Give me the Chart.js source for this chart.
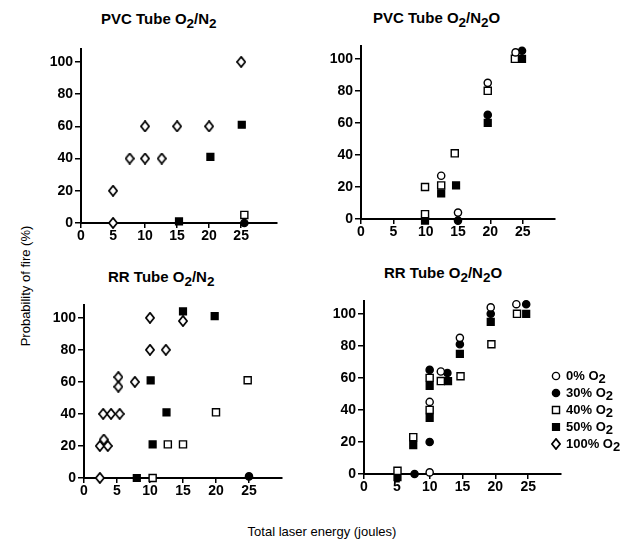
<!DOCTYPE html>
<html>
<head>
<meta charset="utf-8">
<script src="https://cdn.jsdelivr.net/npm/chart.js@4.4.1/dist/chart.umd.min.js"></script>
<style>
  html, body { margin: 0; padding: 0; background: #fff; }
  #page { position: relative; width: 633px; height: 539px; overflow: hidden; color: #000;
          font-family: "Liberation Sans", Arial, Helvetica, sans-serif; }
  canvas { position: absolute; }
  .title { position: absolute; font-weight: bold; font-size: 15px; line-height: 15px; white-space: nowrap; }
  .sub { position: relative; top: 4px; font-size: 90%; }
  .axis-title { position: absolute; font-size: 13px; line-height: 13px; white-space: nowrap; }
</style>
</head>
<body>
<div id="page">
  <div class="axis-title" id="yTitle" style="left:25px; top:286px; transform: translate(-50%, -50%) rotate(-90deg);"></div>
  <div class="axis-title" id="xTitle" style="left:322px; top:531px; transform: translate(-50%, -50%);"></div>
</div>
<script>
const xTicks = [0, 5, 10, 15, 20, 25];
const yTicks = [0, 20, 40, 60, 80, 100];
const seriesLabels = ['0% O₂', '30% O₂', '40% O₂', '50% O₂', '100% O₂'];
const panelTitles = ['PVC Tube O₂/N₂', 'PVC Tube O₂/N₂O', 'RR Tube O₂/N₂', 'RR Tube O₂/N₂O'];
const xTitle = 'Total laser energy (joules)';
const yTitle = 'Probability of fire (%)';

// [joules, % fire]
const pvcN2_0 = [];
const pvcN2_30 = [[25.5, 0]];
const pvcN2_40 = [[25.5, 5]];
const pvcN2_50 = [[15.3, 1], [20.2, 41], [25.1, 61]];
const pvcN2_100 = [[5, 20], [5, 0], [7.6, 40], [10, 60], [10, 40], [12.6, 40], [15, 60], [20, 60], [25, 100]];

const pvcN2O_0 = [[12.4, 27], [15, 4], [19.6, 85], [23.9, 104]];
const pvcN2O_30 = [[15, -1], [19.6, 65], [24.9, 105]];
const pvcN2O_40 = [[9.9, 20], [9.9, 3], [12.4, 21], [14.5, 41], [19.6, 80], [23.8, 100]];
const pvcN2O_50 = [[9.9, -1], [12.4, 16], [14.7, 21], [19.6, 60], [24.9, 100]];
const pvcN2O_100 = [];

const rrN2_0 = [];
const rrN2_30 = [[25, 1]];
const rrN2_40 = [[10.4, 0], [12.7, 21], [15, 21], [20, 41], [24.8, 61]];
const rrN2_50 = [[8, 0], [10.1, 61], [10.4, 21], [12.5, 41], [15, 104], [19.8, 101]];
const rrN2_100 = [[2.4, 0], [2.4, 20], [3, 24], [3.6, 20], [2.9, 40], [4.1, 40], [5.4, 40], [5.2, 63], [5.2, 57],
                  [7.7, 60], [10, 100], [10, 80], [12.4, 80], [15, 98]];

const rrN2O_0 = [[10, 1], [10, 45], [11.7, 64], [14.6, 85], [19.3, 104], [23.2, 106]];
const rrN2O_30 = [[7.7, 0], [10, 20], [10, 65], [12.7, 63], [14.6, 81], [19.3, 100], [24.7, 106]];
const rrN2O_40 = [[5.1, 2], [7.5, 23], [10, 40], [10, 60], [11.7, 58], [14.7, 61], [19.4, 81], [23.3, 100]];
const rrN2O_50 = [[5.1, -2], [7.5, 18], [10, 35], [10, 55], [12.8, 58], [14.6, 75], [19.3, 95], [24.7, 100]];
const rrN2O_100 = [];

// layout: chart area [left, top, right, bottom] in page px, title position
const panels = [
  { area: [81, 49, 277, 223], xMax: 30.6, title: [101, 11], series: [pvcN2_0, pvcN2_30, pvcN2_40, pvcN2_50, pvcN2_100] },
  { area: [361, 46, 555, 219], xMax: 30, title: [373, 10], series: [pvcN2O_0, pvcN2O_30, pvcN2O_40, pvcN2O_50, pvcN2O_100] },
  { area: [84, 305, 282, 478], xMax: 30, title: [108, 269], series: [rrN2_0, rrN2_30, rrN2_40, rrN2_50, rrN2_100] },
  { area: [364, 301, 561, 474], xMax: 30, title: [384, 265], series: [rrN2O_0, rrN2O_30, rrN2O_40, rrN2O_50, rrN2O_100], legend: true }
];

const FONT = '"Liberation Sans", Arial, Helvetica, sans-serif';
const TICK_FONT = { family: FONT, size: 14, weight: 'bold' };

// tall open diamond for 100% O2
const diamond = document.createElement('canvas');
diamond.width = 10;
diamond.height = 12;
(() => {
  const c = diamond.getContext('2d');
  c.beginPath();
  c.moveTo(5, 0.9);
  c.lineTo(9.1, 6);
  c.lineTo(5, 11.1);
  c.lineTo(0.9, 6);
  c.closePath();
  c.fillStyle = '#fff';
  c.fill();
  c.lineWidth = 1.7;
  c.strokeStyle = '#000';
  c.stroke();
})();

const markers = [
  { style: 'circle', radius: 3.6, fill: '#fff' },
  { style: 'circle', radius: 3.6, fill: '#000' },
  { style: 'rect', radius: 5, fill: '#fff' },
  { style: 'rect', radius: 4.8, fill: '#000' },
  { style: diamond, radius: 4.5, fill: '#fff' }
];

function subHtml(text) {
  return text.replace(/₂/g, '<span class="sub">2</span>');
}

function drawSubText(ctx, text, x, y) {
  for (const ch of text) {
    const isSub = ch === '₂';
    const c = isSub ? '2' : ch;
    ctx.fillText(c, x, isSub ? y + 3 : y);
    x += ctx.measureText(c).width;
  }
}

const legendPlugin = {
  id: 'o2Legend',
  afterDraw(chart, args, opts) {
    if (!opts.show) return;
    const { ctx, chartArea } = chart;
    ctx.save();
    ctx.font = 'bold 13px ' + FONT;
    ctx.textBaseline = 'middle';
    chart.data.datasets.forEach((ds, i) => {
      const x = Math.round(chartArea.left + opts.x);
      const y = Math.round(chartArea.top + opts.y + i * opts.gap);
      ctx.fillStyle = ds.pointBackgroundColor;
      ctx.strokeStyle = '#000';
      ctx.lineWidth = ds.pointBorderWidth;
      Chart.helpers.drawPoint(ctx, { pointStyle: ds.pointStyle, radius: ds.pointRadius, borderWidth: ds.pointBorderWidth }, x, y);
      ctx.fillStyle = '#000';
      drawSubText(ctx, ds.label, x + 10, y);
    });
    ctx.restore();
  }
};

function axis(ticks, max, isX) {
  return {
    type: 'linear',
    min: 0,
    max: max,
    afterBuildTicks: (scale) => { scale.ticks = ticks.map(v => ({ value: v })); },
    afterFit: (scale) => { if (isX) scale.height = 30; else scale.width = 55; },
    border: { display: true, color: '#000', width: 2 },
    grid: { display: true, drawOnChartArea: false, drawTicks: true, tickLength: isX ? 5 : 6, color: '#000', lineWidth: 1.5 },
    ticks: { color: '#000', font: TICK_FONT, padding: isX ? 0 : 2, maxRotation: 0, autoSkip: false }
  };
}

const page = document.getElementById('page');
document.getElementById('xTitle').textContent = xTitle;
document.getElementById('yTitle').textContent = yTitle;

panels.forEach((p, idx) => {
  const [l, t, r, b] = p.area;
  const padTop = 12, padRight = p.legend ? 633 - r : 10;
  const canvas = document.createElement('canvas');
  canvas.width = 55 + (r - l) + padRight;
  canvas.height = padTop + (b - t) + 30;
  canvas.style.left = (l - 55) + 'px';
  canvas.style.top = (t - padTop) + 'px';
  page.appendChild(canvas);

  const title = document.createElement('div');
  title.className = 'title';
  title.style.left = p.title[0] + 'px';
  title.style.top = p.title[1] + 'px';
  title.innerHTML = subHtml(panelTitles[idx]);
  page.appendChild(title);

  new Chart(canvas, {
    type: 'scatter',
    data: {
      datasets: p.series.map((pts, i) => ({
        label: seriesLabels[i],
        data: pts.map(([x, y]) => ({ x, y })),
        pointStyle: markers[i].style,
        pointRadius: markers[i].radius,
        pointHoverRadius: markers[i].radius,
        pointBackgroundColor: markers[i].fill,
        pointBorderColor: '#000',
        pointBorderWidth: 1.4,
        clip: false
      }))
    },
    options: {
      responsive: false,
      animation: false,
      devicePixelRatio: 1,
      layout: { padding: { top: padTop, right: padRight, bottom: 0, left: 0 } },
      scales: { x: axis(xTicks, p.xMax, true), y: axis(yTicks, 108, false) },
      plugins: {
        legend: { display: false },
        tooltip: { enabled: false },
        o2Legend: { show: !!p.legend, x: 192, y: 75, gap: 17 }
      }
    },
    plugins: [legendPlugin]
  });
});
</script>
</body>
</html>
